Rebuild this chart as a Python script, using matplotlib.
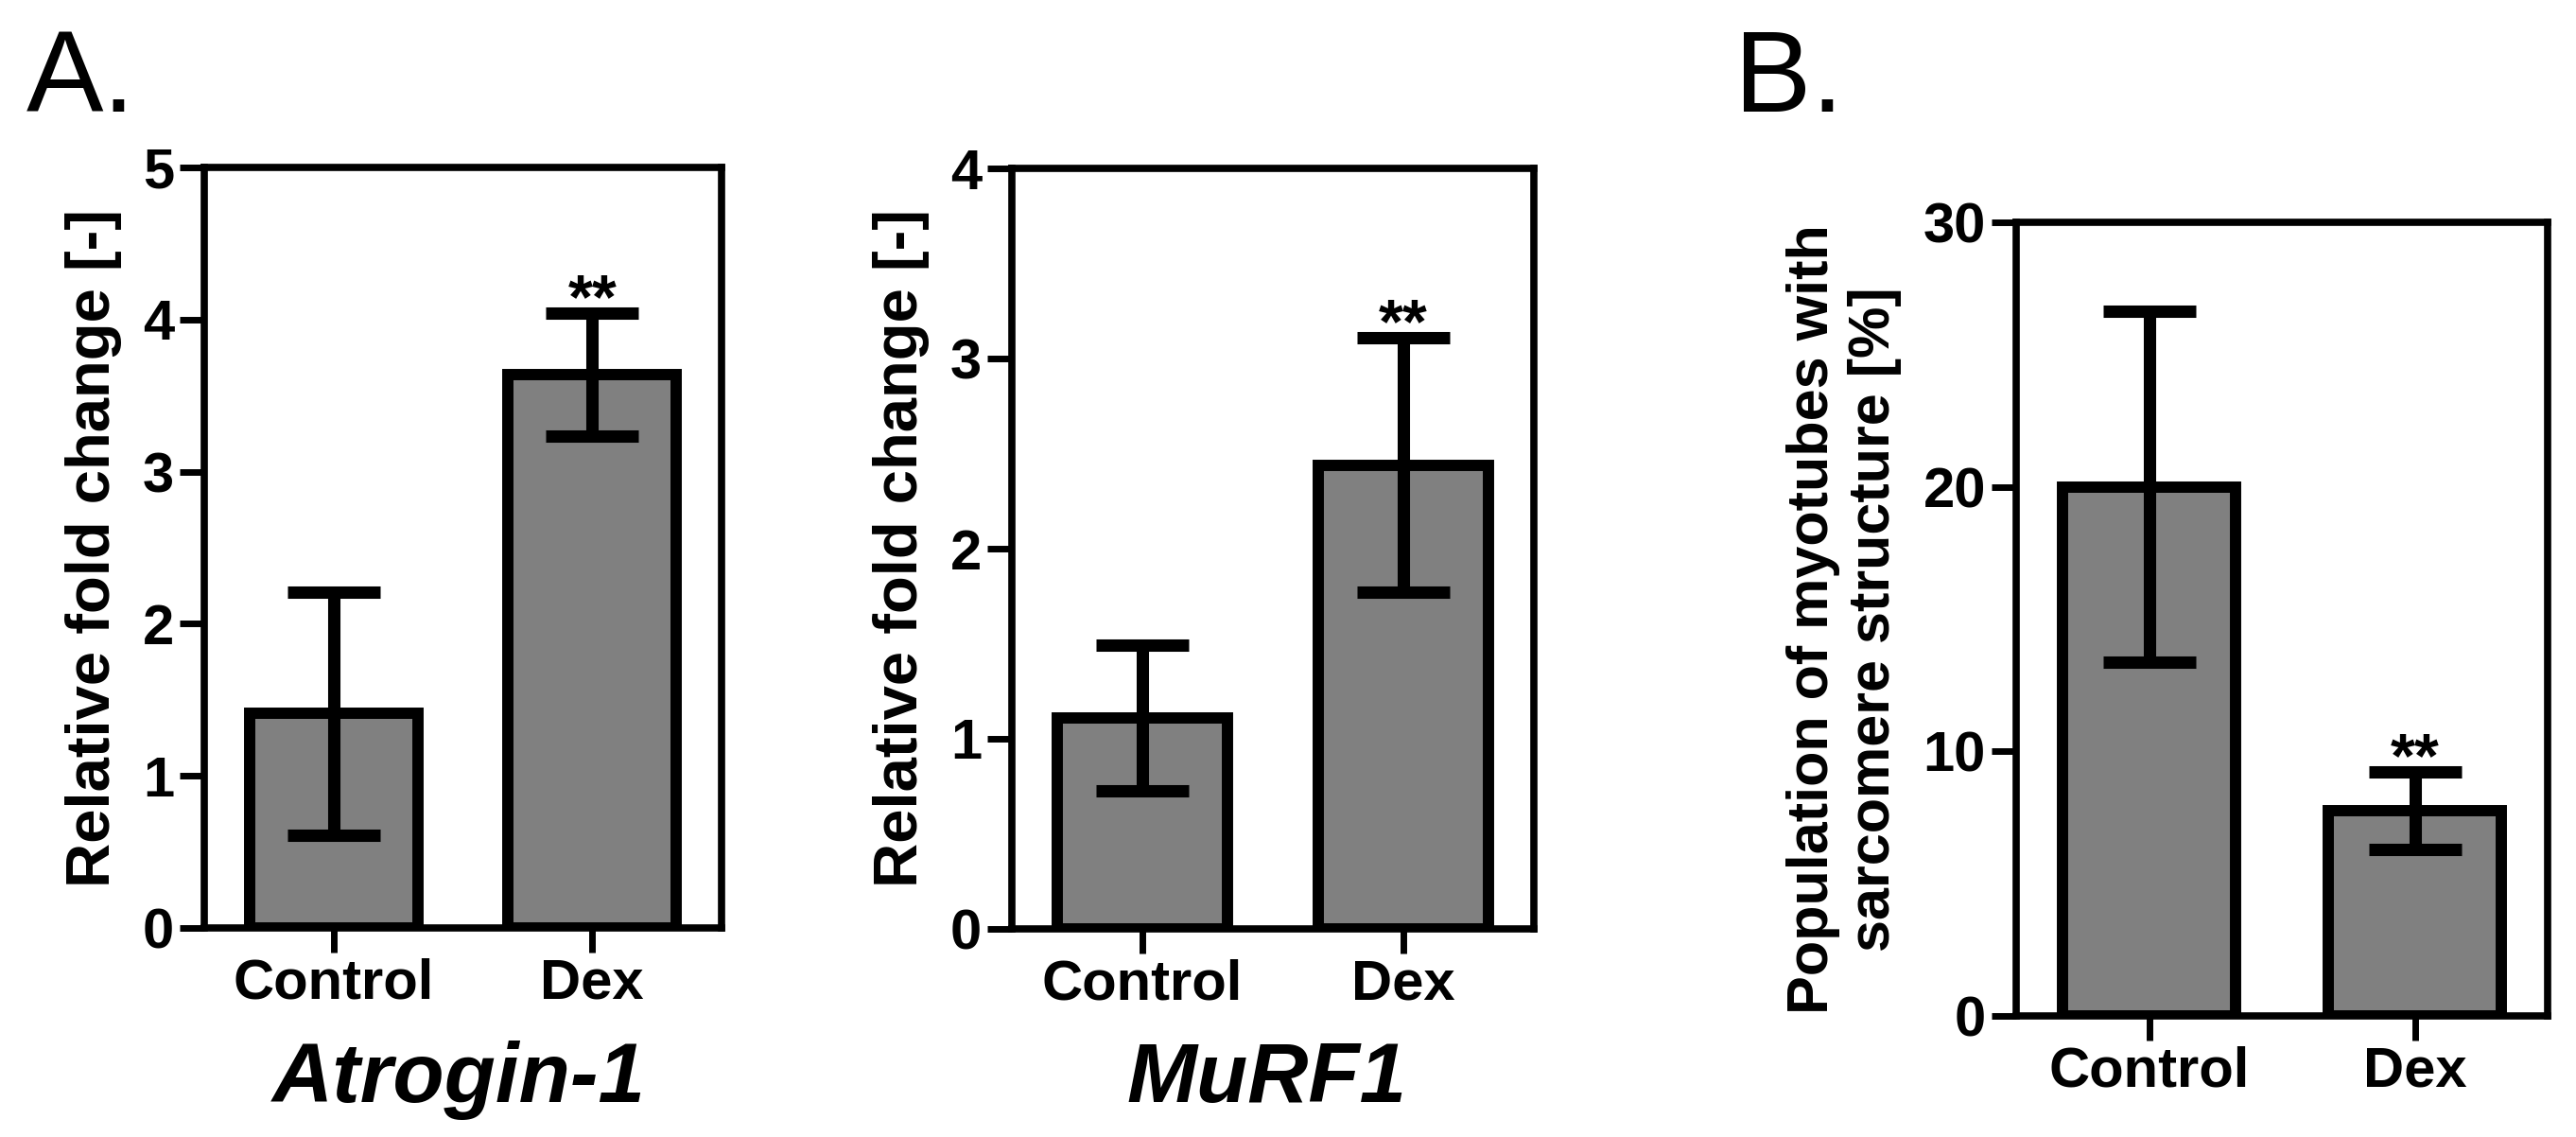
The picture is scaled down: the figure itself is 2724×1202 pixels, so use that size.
import matplotlib
matplotlib.use('Agg')
import matplotlib.pyplot as plt

plt.rcParams['font.family'] = ['Liberation Sans', 'DejaVu Sans']

# ---- data ----
groups = ['Control', 'Dex']
atrogin_mean = [1.41, 3.64]
atrogin_err = [0.80, 0.405]
murf1_mean = [1.11, 2.44]
murf1_err = [0.385, 0.67]
sarc_mean = [20.0, 7.77]
sarc_err = [6.64, 1.46]
atrogin_ticks = [0, 1, 2, 3, 4, 5]
murf1_ticks = [0, 1, 2, 3, 4]
sarc_ticks = [0, 10, 20, 30]
sig = ['', '**']

W, H = 2724, 1202
fig = plt.figure(figsize=(W / 100, H / 100), dpi=100)


def rect(l, r, t, b):
    return [l / W, 1 - b / H, (r - l) / W, (b - t) / H]


def panel(rc, means, errs, ticks, ylabel):
    ax = fig.add_axes(rc)
    x = list(range(len(groups)))
    ax.bar(x, means, width=0.65, color='#808080', edgecolor='black',
           linewidth=8.6, zorder=2)
    ax.errorbar(x, means, yerr=errs, fmt='none', ecolor='black',
                elinewidth=9.4, capsize=35, capthick=9.4, zorder=3)
    for xi, m, e, s in zip(x, means, errs, sig):
        if s:
            ax.annotate(s, (xi, m + e), xytext=(0, -4),
                        textcoords='offset points', ha='center',
                        va='baseline', fontsize=48, fontweight='bold')
    ax.set_xlim(-0.5, 1.5)
    ax.set_ylim(ticks[0], ticks[-1])
    ax.set_xticks(x)
    ax.set_xticklabels(groups)
    ax.set_yticks(ticks)
    for sp in ax.spines.values():
        sp.set_linewidth(5.5)
    ax.tick_params(direction='out', length=19, width=5, labelsize=43, pad=4)
    for lab in ax.get_xticklabels() + ax.get_yticklabels():
        lab.set_fontweight('bold')
    ax.set_ylabel(ylabel, fontsize=47, fontweight='bold', labelpad=16)
    return ax


axA1 = panel(rect(216, 763, 177, 981), atrogin_mean, atrogin_err,
             atrogin_ticks, 'Relative fold change [-]')
axA2 = panel(rect(1070, 1622, 178, 982), murf1_mean, murf1_err,
             murf1_ticks, 'Relative fold change [-]')
axB = panel(rect(2132, 2694, 235, 1074), sarc_mean, sarc_err,
            sarc_ticks, 'Population of myotubes with\nsarcomere structure [%]')
axB.yaxis.label.set_fontsize(44)

fig.text(485 / W, 1 - 1165 / H, 'Atrogin-1', ha='center', va='baseline',
         fontsize=64, fontweight='bold', style='italic')
fig.text(1339 / W, 1 - 1165 / H, 'MuRF1', ha='center', va='baseline',
         fontsize=64, fontweight='bold', style='italic')
fig.text(28 / W, 1 - 118 / H, 'A.', ha='left', va='baseline', fontsize=88)
fig.text(1834 / W, 1 - 118 / H, 'B.', ha='left', va='baseline', fontsize=88)

fig.savefig('out.png', dpi=100, facecolor='white')
